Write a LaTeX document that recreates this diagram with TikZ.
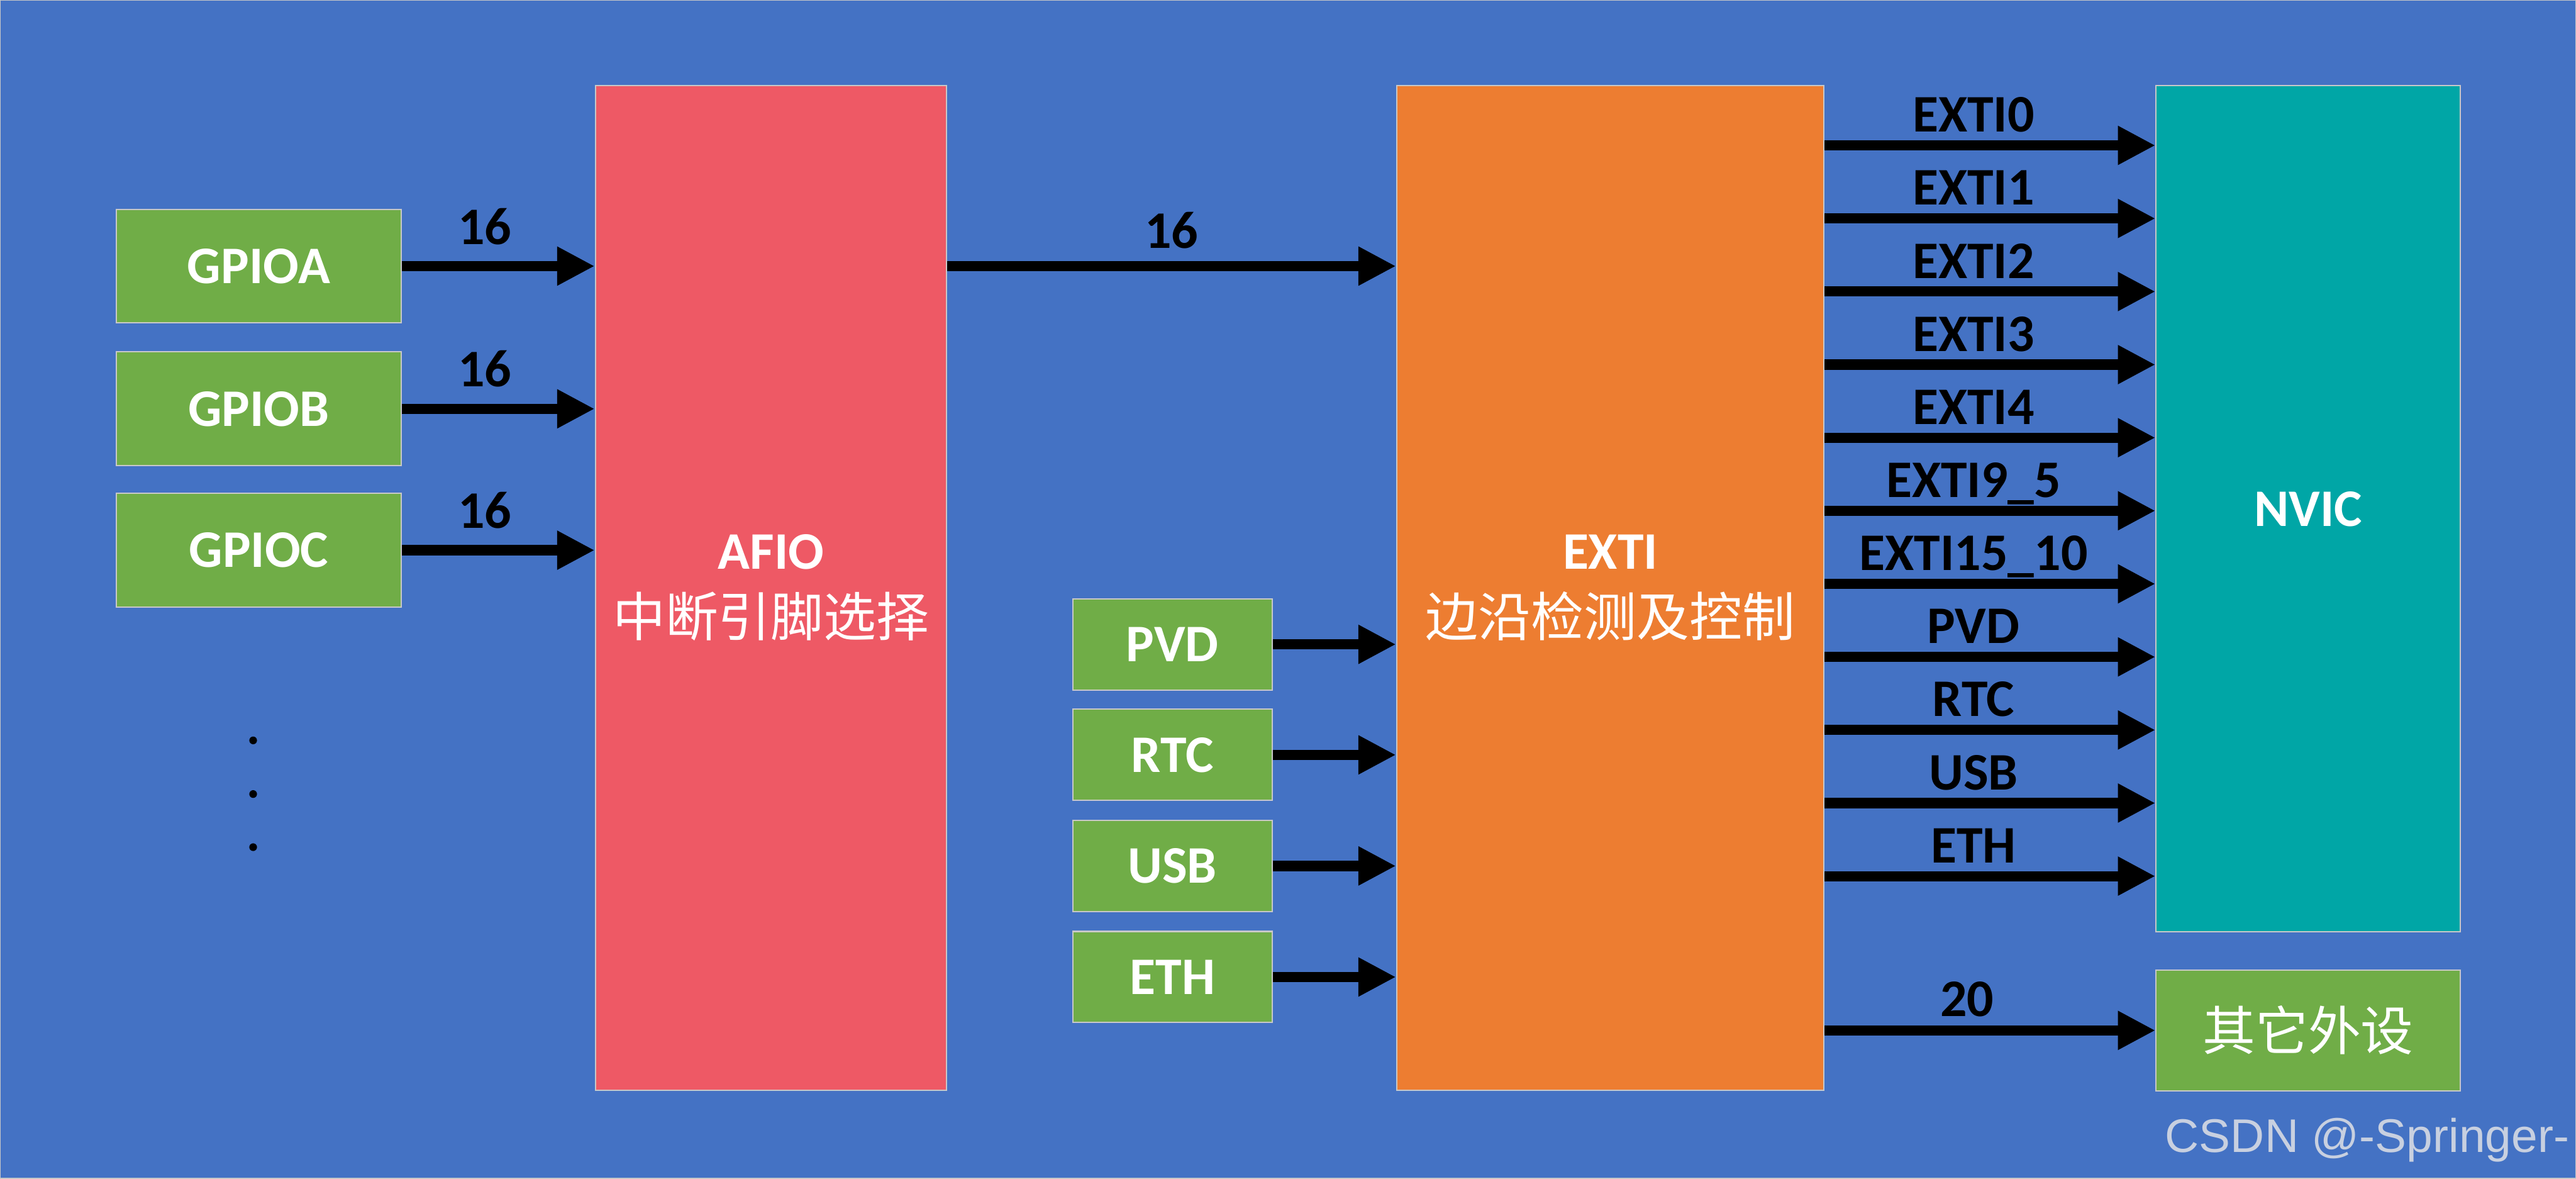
\documentclass[tikz,border=0pt]{standalone}
\usepackage{fontspec}
\setmainfont{Carlito}
\newfontfamily\cjk{Noto Sans CJK SC}
\newfontfamily\wmfont{Liberation Sans}
\usetikzlibrary{arrows.meta}
\definecolor{bgblue}{RGB}{68,114,196}
\definecolor{leaf}{RGB}{112,173,71}
\definecolor{afiored}{RGB}{238,89,101}
\definecolor{extiorange}{RGB}{237,125,49}
\definecolor{nvicteal}{RGB}{0,166,166}
\definecolor{edge}{RGB}{200,200,200}
\definecolor{wmgrey}{RGB}{200,208,224}
\newcommand{\boxfont}{\fontsize{28}{35.5}\selectfont\bfseries}

\begin{document}
\begin{tikzpicture}[
  pin/.style={draw=edge, line width=0.7pt, fill=leaf, text=white, font=\boxfont, minimum width=5.31cm, minimum height=2.12cm, inner sep=0pt},
  block/.style={draw=edge, line width=0.7pt, text=white, font=\boxfont, align=center, minimum height=18.73cm, inner sep=0pt},
  bus/.style={-{Triangle[length=7mm, width=6.8mm]}, line width=1.9mm},
  lab/.style={font=\boxfont, inner sep=0pt, anchor=base}]
\useasboundingbox (0,0) rectangle (48.03,21.97);
\fill[bgblue, draw=edge, line width=0.8pt] (0,0) rectangle (48.03,21.97);
% sources on the left
\node[pin] (gpioa) at (4.825,17.01) {GPIOA};
\node[pin] (gpiob) at (4.825,14.35) {GPIOB};
\node[pin] (gpioc) at (4.825,11.715) {GPIOC};
\foreach \y in {8.17,7.17,6.18}
  \fill (4.72,\y) circle (0.072);
% main blocks
\node[block, fill=afiored, minimum width=6.55cm] (afio) at (14.375,11.015) {AFIO\\{\cjk\mdseries 中断引脚选择}};
\node[block, fill=extiorange, minimum width=7.97cm] (exti) at (30.025,11.015) {EXTI\\{\cjk\mdseries 边沿检测及控制}};
\node[block, fill=nvicteal, minimum width=5.67cm, minimum height=15.77cm] (nvic) at (43.035,12.485) {NVIC};
\node[pin, minimum width=5.67cm, minimum height=2.25cm] (other) at (43.035,2.765) {\cjk\mdseries 其它外设};
\foreach \name/\y in {PVD/9.96,RTC/7.90,USB/5.83,ETH/3.76}
  \node[pin, minimum width=3.72cm, minimum height=1.70cm] (\name) at (21.86,\y) {\name};
% buses
\foreach \g in {gpioa,gpiob,gpioc}
  \draw[bus] (\g.east) -- node[lab, pos=0.43, yshift=4.1mm] {16} (\g.east -| afio.west);
\draw[bus] (afio.east |- gpioa) -- node[lab, yshift=3.3mm] {16} (exti.west |- gpioa);
\foreach \name in {PVD,RTC,USB,ETH}
  \draw[bus] (\name.east) -- (\name.east -| exti.west);
\foreach \t [count=\i from 0] in {EXTI0,EXTI1,EXTI2,EXTI3,EXTI4,EXTI9\_5,EXTI15\_10,PVD,RTC,USB,ETH} {
  \pgfmathsetmacro\y{19.26-1.362*\i}
  \coordinate (out) at (0,\y);
  \draw[bus] (exti.east |- out) -- node[lab, pos=0.45, yshift=2.5mm] {\t} (nvic.west |- out);
}
\draw[bus] (exti.east |- other) -- node[lab, pos=0.43, yshift=2.6mm] {20} (other.west);
\node[font=\wmfont\fontsize{25}{30}\selectfont, text=wmgrey, anchor=base east, inner sep=0pt] (wmark) at (47.91,0.49) {CSDN @-Springer-};
\end{tikzpicture}
\end{document}
